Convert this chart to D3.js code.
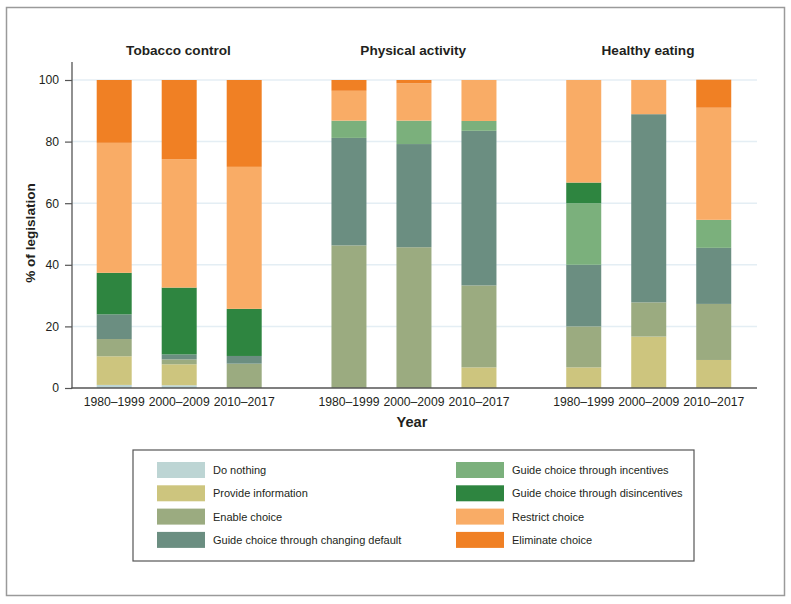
<!DOCTYPE html>
<html>
<head>
<meta charset="utf-8">
<script src="https://cdn.jsdelivr.net/npm/d3@7"></script>
<style>
  html, body { margin: 0; padding: 0; background: #fff; }
  svg { display: block; font-family: "Liberation Sans", Arial, Helvetica, sans-serif; }
</style>
</head>
<body>
<svg id="chart" width="791" height="604"></svg>
<script>
// ---- data ----
const groups = ["Tobacco control", "Physical activity", "Healthy eating"];
const periods = ["1980\u20131999", "2000\u20132009", "2010\u20132017"];
const categories = [
  "Do nothing",
  "Provide information",
  "Enable choice",
  "Guide choice through changing default",
  "Guide choice through incentives",
  "Guide choice through disincentives",
  "Restrict choice",
  "Eliminate choice"
];
const colors = ["#bdd5d4", "#cdc57e", "#9bab80", "#6b8e81", "#7bb07c", "#2e8540", "#f9ac66", "#f08024"];

// % of legislation per bar, in category order (bottom to top)
const tobacco = [
  [1.0, 9.3, 5.6, 8.0, 0, 13.5, 42.2, 20.4],
  [0.9, 6.8, 1.6, 1.6, 0, 21.7, 41.7, 25.7],
  [0, 0, 7.9, 2.5, 0, 15.3, 46.1, 28.2]
];
const physicalActivity = [
  [0, 0, 46.3, 34.9, 5.6, 0, 9.7, 3.5],
  [0, 0, 45.7, 33.5, 7.6, 0, 12.1, 1.1],
  [0, 6.7, 26.6, 50.2, 3.2, 0, 13.3, 0]
];
const healthyEating = [
  [0, 6.7, 13.3, 20.0, 20.0, 6.7, 33.3, 0],
  [0, 16.7, 11.1, 61.1, 0, 0, 11.1, 0],
  [0, 9.1, 18.2, 18.2, 9.1, 0, 36.4, 9.1]
];
const yTicks = [0, 20, 40, 60, 80, 100];
const seriesByGroup = [tobacco, physicalActivity, healthyEating];

// ---- layout ----
const svg = d3.select("#chart");
const textColor = "#231f20";

// outer frame
svg.append("rect")
  .attr("x", 6.5).attr("y", 7.5).attr("width", 778).attr("height", 588)
  .attr("fill", "none").attr("stroke", "#9a9a9a").attr("stroke-width", 1.5);

const y = d3.scaleLinear().domain([0, 100]).range([388, 80]);
const xGroup = d3.scaleBand().domain(groups).range([61.6, 765.9]).padding(0);
const xPeriod = d3.scaleBand().domain(periods)
  .range([20.1, 215.1]).paddingInner(30 / 65).paddingOuter(15 / 65);

// gridlines
svg.append("g").selectAll("line").data(yTicks.filter(d => d > 0)).join("line")
  .attr("x1", 72).attr("x2", 757)
  .attr("y1", d => y(d)).attr("y2", d => y(d))
  .attr("stroke", "#e4eef4").attr("stroke-width", 1.5);

// bars
const stack = d3.stack().keys(d3.range(categories.length)).value((d, k) => d[k]);
groups.forEach((g, gi) => {
  const data = seriesByGroup[gi].map((v, pi) => Object.assign(v.slice(), { period: periods[pi] }));
  const layers = stack(data);
  const gg = svg.append("g").attr("transform", `translate(${xGroup(g)},0)`);
  layers.forEach((layer, ci) => {
    gg.selectAll(null).data(layer.filter(d => d[1] - d[0] > 0)).join("rect")
      .attr("x", d => xPeriod(d.data.period))
      .attr("width", xPeriod.bandwidth())
      .attr("y", d => y(d[1]))
      .attr("height", d => y(d[0]) - y(d[1]))
      .attr("fill", colors[ci]);
  });
  // x tick labels
  gg.selectAll(null).data(periods).join("text")
    .attr("x", d => xPeriod(d) + xPeriod.bandwidth() / 2)
    .attr("y", 406)
    .attr("text-anchor", "middle")
    .attr("font-size", 12.2)
    .attr("fill", textColor)
    .text(d => d);
  // group title
  svg.append("text")
    .attr("x", xGroup(g) + xGroup.bandwidth() / 2 - 0.5)
    .attr("y", 55)
    .attr("text-anchor", "middle")
    .attr("font-size", 13.6).attr("font-weight", "bold")
    .attr("fill", textColor)
    .text(g);
});

// y axis
const yAxis = d3.axisLeft(y).tickValues(yTicks).tickSize(7).tickPadding(6);
const ya = svg.append("g").attr("transform", "translate(72,0)").call(yAxis);
ya.select(".domain").remove();
ya.selectAll(".tick line").attr("stroke", "#555").attr("stroke-width", 1.2);
ya.selectAll(".tick text").attr("font-size", 12.2).attr("fill", textColor)
  .attr("font-family", "Liberation Sans, Arial, sans-serif");
svg.append("line").attr("x1", 72).attr("x2", 72).attr("y1", 62).attr("y2", 388.5)
  .attr("stroke", "#555").attr("stroke-width", 1.3);
// x axis line
svg.append("line").attr("x1", 71.4).attr("x2", 757).attr("y1", 388).attr("y2", 388)
  .attr("stroke", "#555").attr("stroke-width", 1.3);

// axis titles
svg.append("text")
  .attr("transform", "translate(35,233) rotate(-90)")
  .attr("text-anchor", "middle")
  .attr("font-size", 13.6).attr("font-weight", "bold").attr("fill", textColor)
  .text("% of legislation");
svg.append("text")
  .attr("x", 412).attr("y", 427)
  .attr("text-anchor", "middle")
  .attr("font-size", 14.6).attr("font-weight", "bold").attr("fill", textColor)
  .text("Year");

// legend
svg.append("rect")
  .attr("x", 133).attr("y", 450).attr("width", 561).attr("height", 111)
  .attr("fill", "none").attr("stroke", "#555").attr("stroke-width", 1.2);
const legend = svg.append("g");
categories.forEach((c, i) => {
  const col = Math.floor(i / 4), row = i % 4;
  const lx = col === 0 ? 157 : 456;
  const ly = 462 + row * 23.3;
  legend.append("rect").attr("x", lx).attr("y", ly).attr("width", 48).attr("height", 16)
    .attr("fill", colors[i]);
  legend.append("text").attr("x", lx + 56).attr("y", ly + 12)
    .attr("font-size", 11).attr("fill", textColor)
    .text(c);
});
</script>
</body>
</html>
